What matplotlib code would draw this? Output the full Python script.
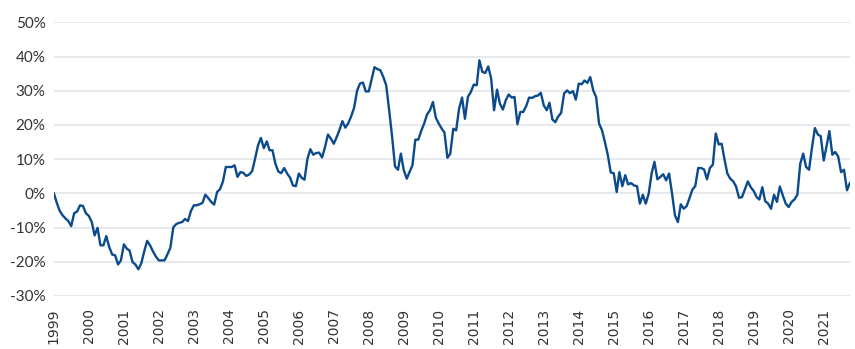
import matplotlib
matplotlib.use('Agg')
import matplotlib.pyplot as plt
import matplotlib.dates as mdates
import matplotlib.ticker as mticker
import pandas as pd

# 月度数据, 1999-01 开始, 单位 %
start_month = '1999-01'
values_1999 = [0.0, -2.8, -5.0, -6.4, -7.3, -8.1, -9.6, -5.8, -5.3, -3.5, -3.7, -5.8]
values_2000 = [-6.6, -8.4, -12.3, -10.1, -15.2, -15.2, -12.5, -15.7, -17.9, -18.1, -20.8, -19.6]
values_2001 = [-14.9, -16.2, -16.7, -20.1, -20.8, -22.2, -20.5, -17.0, -13.9, -15.2, -17.0, -18.5]
values_2002 = [-19.6, -19.6, -19.6, -17.8, -15.9, -9.9, -9.0, -8.6, -8.4, -7.5, -8.1, -5.2]
values_2003 = [-3.5, -3.5, -3.2, -2.8, -0.4, -1.4, -2.5, -3.3, 0.4, 1.2, 3.5, 7.7]
values_2004 = [7.7, 7.7, 8.2, 4.8, 6.2, 6.0, 5.1, 5.5, 6.5, 10.1, 14.0, 16.2]
values_2005 = [13.2, 15.2, 12.6, 12.6, 8.7, 6.4, 5.9, 7.4, 5.8, 4.6, 2.3, 2.1]
values_2006 = [5.8, 4.5, 4.0, 10.1, 12.9, 11.3, 11.8, 11.9, 10.5, 13.5, 17.2, 16.0]
values_2007 = [14.5, 16.5, 18.5, 21.1, 19.2, 20.5, 22.5, 25.0, 30.0, 32.1, 32.4, 29.8]
values_2008 = [29.8, 33.5, 36.9, 36.3, 36.0, 34.0, 31.6, 24.3, 16.5, 7.9, 6.9, 11.6]
values_2009 = [6.7, 4.3, 6.2, 8.2, 15.7, 15.7, 18.2, 20.4, 23.1, 24.3, 26.7, 22.1]
values_2010 = [20.4, 18.9, 17.8, 10.4, 11.6, 18.9, 18.4, 24.8, 28.0, 21.8, 28.2, 29.6]
values_2011 = [31.8, 31.6, 38.9, 35.5, 35.2, 37.1, 33.7, 24.3, 30.3, 26.2, 24.5, 27.2]
values_2012 = [28.9, 28.0, 28.2, 20.2, 23.8, 23.8, 25.5, 28.0, 27.9, 28.4, 28.6, 29.4]
values_2013 = [25.7, 24.3, 26.5, 21.6, 20.8, 22.5, 23.5, 29.2, 30.1, 29.3, 29.9, 27.4]
values_2014 = [32.1, 31.9, 33.0, 32.3, 34.0, 30.1, 28.2, 20.4, 18.4, 15.0, 11.1, 6.1]
values_2015 = [5.9, 0.4, 6.2, 2.1, 5.3, 2.6, 3.0, 2.3, 2.1, -3.0, -0.4, -3.0]
values_2016 = [-0.1, 5.9, 9.2, 4.1, 4.8, 5.6, 3.8, 5.8, -0.1, -6.4, -8.4, -3.2]
values_2017 = [-4.5, -3.7, -1.5, 1.1, 2.1, 7.4, 7.4, 7.0, 4.1, 7.4, 8.4, 17.5]
values_2018 = [14.3, 14.5, 10.1, 5.8, 4.3, 3.5, 2.0, -1.3, -1.1, 1.2, 3.5, 1.8]
values_2019 = [0.7, -1.1, -1.8, 1.8, -2.3, -3.0, -4.5, -0.4, -2.5, 2.0, -0.6, -3.0]
values_2020 = [-4.0, -2.5, -1.8, -0.4, 8.7, 11.6, 7.7, 6.9, 13.5, 19.1, 17.2, 16.7]
values_2021 = [9.6, 14.0, 18.2, 11.3, 12.1, 10.8, 6.2, 6.9, 0.9, 3.0]

year_labels = [str(y) for y in range(1999, 2022)]
y_ticks = [-30, -20, -10, 0, 10, 20, 30, 40, 50]

values = (values_1999 + values_2000 + values_2001 + values_2002 + values_2003 +
          values_2004 + values_2005 + values_2006 + values_2007 + values_2008 +
          values_2009 + values_2010 + values_2011 + values_2012 + values_2013 +
          values_2014 + values_2015 + values_2016 + values_2017 + values_2018 +
          values_2019 + values_2020 + values_2021)
dates = pd.date_range(start_month, periods=len(values), freq='MS')

fig = plt.figure(figsize=(8.55, 3.49), dpi=100)
ax = fig.add_axes([0.063, 0.152, 0.931, 0.784])

ax.plot(dates, values, color='#0b4a8b', linewidth=1.7, zorder=3)

ax.set_ylim(-30, 50)
ax.set_yticks(y_ticks)
ax.yaxis.set_major_formatter(mticker.FuncFormatter(lambda v, p: f'{v:.0f}%'))
ax.set_xlim(dates[0], dates[-1])
ax.set_xticks(pd.to_datetime([f'{y}-01-01' for y in year_labels]))
ax.set_xticklabels(year_labels, rotation=90, fontsize=10, family='DejaVu Sans', color='#333333')
for lab in ax.get_yticklabels():
    lab.set_fontfamily('Lato')
    lab.set_fontsize(11)
    lab.set_color('#333333')

ax.grid(axis='y', color='#e4e8ec', linewidth=1.3)
ax.set_axisbelow(True)
ax.tick_params(axis='both', length=0)
ax.tick_params(axis='x', pad=9)
ax.tick_params(axis='y', pad=6)
for s in ax.spines.values():
    s.set_visible(False)

fig.savefig('out.png', dpi=100)
